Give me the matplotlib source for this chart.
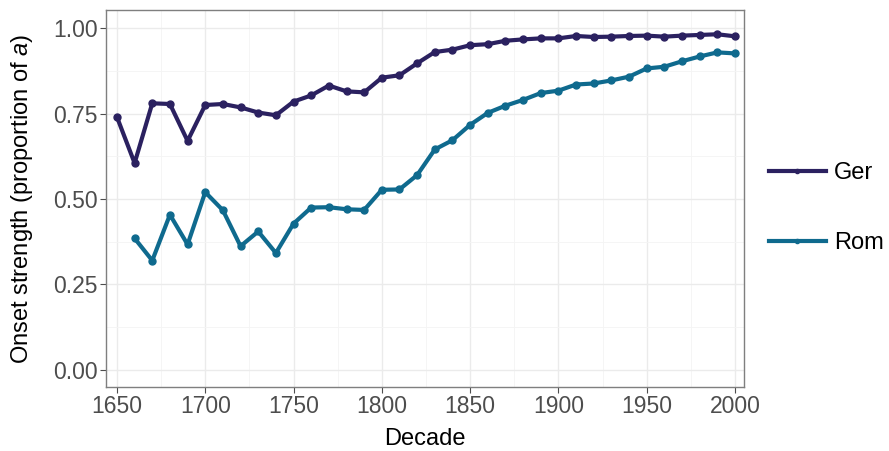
import matplotlib
matplotlib.use("Agg")
import matplotlib.pyplot as plt
from matplotlib.ticker import MultipleLocator

plt.rcParams['font.family'] = ['Liberation Sans', 'DejaVu Sans']
plt.rcParams['mathtext.fontset'] = 'custom'
plt.rcParams['mathtext.rm'] = 'Liberation Sans'
plt.rcParams['mathtext.it'] = 'Liberation Sans:italic'

decades = list(range(1650, 2001, 10))
ger = [0.740, 0.605, 0.780, 0.778, 0.670, 0.775, 0.778, 0.768, 0.753, 0.745,
       0.785, 0.803, 0.832, 0.815, 0.812, 0.855, 0.862, 0.897, 0.930, 0.937,
       0.950, 0.953, 0.963, 0.967, 0.970, 0.970, 0.977, 0.974, 0.975, 0.977,
       0.978, 0.975, 0.978, 0.980, 0.982, 0.976]
rom_decades = list(range(1660, 2001, 10))
rom = [0.385, 0.320, 0.454, 0.367, 0.520, 0.467, 0.362, 0.405, 0.342,
       0.428, 0.475, 0.476, 0.470, 0.468, 0.527, 0.528, 0.570, 0.645, 0.672,
       0.717, 0.752, 0.773, 0.790, 0.810, 0.817, 0.835, 0.838, 0.847, 0.858,
       0.882, 0.887, 0.903, 0.917, 0.929, 0.926]
y_ticks = [0, 0.25, 0.5, 0.75, 1.0]
y_tick_labels = ["0.00", "0.25", "0.50", "0.75", "1.00"]

ger_color = "#2b2160"
rom_color = "#0f6a8e"

fig = plt.figure(figsize=(8.89, 4.51), dpi=100)
ax = fig.add_axes([106 / 889, 1 - 387 / 451, (744 - 106) / 889, (387 - 10) / 451])

ax.plot(decades, ger, color=ger_color, lw=3.0, marker="o", ms=5, label="Ger")
ax.plot(rom_decades, rom, color=rom_color, lw=3.0, marker="o", ms=5, label="Rom")

ax.set_xlim(1643.8, 2005.1)
ax.set_ylim(-0.05, 1.053)
ax.xaxis.set_major_locator(MultipleLocator(50))
ax.xaxis.set_minor_locator(MultipleLocator(25))
ax.set_yticks(y_ticks)
ax.set_yticklabels(y_tick_labels)
ax.yaxis.set_minor_locator(MultipleLocator(0.125))

ax.grid(which="major", color="#ebebeb", lw=1.0)
ax.grid(which="minor", color="#f4f4f4", lw=0.6)
ax.set_axisbelow(True)
ax.tick_params(which="minor", length=0)
ax.tick_params(which="major", length=4, color="#4d4d4d", labelsize=16.5,
               labelcolor="#4d4d4d", width=0.8, pad=2)
for s in ax.spines.values():
    s.set_color("#7f7f7f")
    s.set_linewidth(1.0)

ax.set_xlabel("Decade", fontsize=17, labelpad=7)
ax.set_ylabel(r"Onset strength (proportion of $\mathit{a}$)", fontsize=17, labelpad=13)

leg = fig.legend(loc="center left", bbox_to_anchor=(769 / 889, 1 - 208 / 451),
                 frameon=False, fontsize=17, handlelength=2.4, labelspacing=2.05,
                 handletextpad=0.35, markerscale=0.6, borderpad=0, borderaxespad=0)

plt.savefig("out.png", dpi=100)
